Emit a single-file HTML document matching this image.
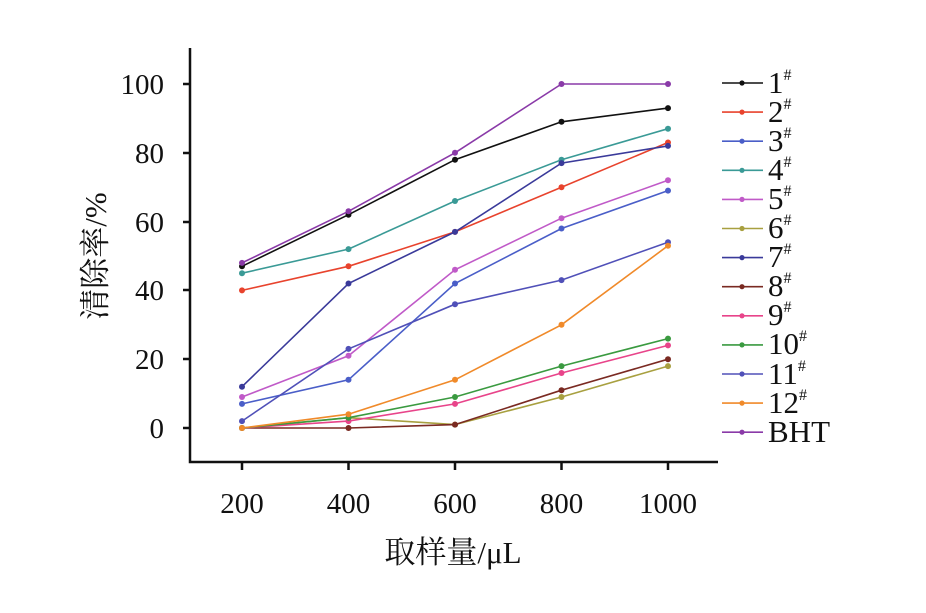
<!DOCTYPE html>
<html><head><meta charset="utf-8"><style>body{margin:0;background:#fff}</style></head><body>
<svg width="926" height="608" xmlns="http://www.w3.org/2000/svg" font-family="Liberation Serif, Noto Serif CJK SC, serif">
<defs>
<marker id="m0" markerWidth="8" markerHeight="8" refX="4" refY="4" markerUnits="userSpaceOnUse"><circle cx="4" cy="4" r="3" fill="#111"/></marker>
<marker id="m1" markerWidth="8" markerHeight="8" refX="4" refY="4" markerUnits="userSpaceOnUse"><circle cx="4" cy="4" r="3" fill="#e8432d"/></marker>
<marker id="m2" markerWidth="8" markerHeight="8" refX="4" refY="4" markerUnits="userSpaceOnUse"><circle cx="4" cy="4" r="3" fill="#4a5ec8"/></marker>
<marker id="m3" markerWidth="8" markerHeight="8" refX="4" refY="4" markerUnits="userSpaceOnUse"><circle cx="4" cy="4" r="3" fill="#3a9a96"/></marker>
<marker id="m4" markerWidth="8" markerHeight="8" refX="4" refY="4" markerUnits="userSpaceOnUse"><circle cx="4" cy="4" r="3" fill="#c05ac8"/></marker>
<marker id="m5" markerWidth="8" markerHeight="8" refX="4" refY="4" markerUnits="userSpaceOnUse"><circle cx="4" cy="4" r="3" fill="#a8a040"/></marker>
<marker id="m6" markerWidth="8" markerHeight="8" refX="4" refY="4" markerUnits="userSpaceOnUse"><circle cx="4" cy="4" r="3" fill="#3a3a9a"/></marker>
<marker id="m7" markerWidth="8" markerHeight="8" refX="4" refY="4" markerUnits="userSpaceOnUse"><circle cx="4" cy="4" r="3" fill="#7a2a22"/></marker>
<marker id="m8" markerWidth="8" markerHeight="8" refX="4" refY="4" markerUnits="userSpaceOnUse"><circle cx="4" cy="4" r="3" fill="#e8448a"/></marker>
<marker id="m9" markerWidth="8" markerHeight="8" refX="4" refY="4" markerUnits="userSpaceOnUse"><circle cx="4" cy="4" r="3" fill="#3a9a40"/></marker>
<marker id="m10" markerWidth="8" markerHeight="8" refX="4" refY="4" markerUnits="userSpaceOnUse"><circle cx="4" cy="4" r="3" fill="#5050b8"/></marker>
<marker id="m11" markerWidth="8" markerHeight="8" refX="4" refY="4" markerUnits="userSpaceOnUse"><circle cx="4" cy="4" r="3" fill="#f08a2a"/></marker>
<marker id="m12" markerWidth="8" markerHeight="8" refX="4" refY="4" markerUnits="userSpaceOnUse"><circle cx="4" cy="4" r="3" fill="#8a3aa8"/></marker>
</defs>
<rect width="926" height="608" fill="#fff"/>
<g stroke="#111" stroke-width="2.5" fill="none">
<path d="M190,48V462H718"/>
<path d="M190,428h-7M190,359h-7M190,290h-7M190,222h-7M190,153h-7M190,84h-7"/>
<path d="M242,462v8M348.5,462v8M455,462v8M561.5,462v8M668,462v8"/>
</g>
<g font-size="29" fill="#111" text-anchor="end">
<text x="164" y="438">0</text><text x="164" y="369">20</text><text x="164" y="300">40</text><text x="164" y="232">60</text><text x="164" y="163">80</text><text x="164" y="94">100</text>
</g>
<g font-size="29" fill="#111" text-anchor="middle">
<text x="242" y="513">200</text><text x="348.5" y="513">400</text><text x="455" y="513">600</text><text x="561.5" y="513">800</text><text x="668" y="513">1000</text>
<text x="453" y="563" font-size="31">取样量/μL</text>
<text transform="translate(106,256) rotate(-90)" font-size="31">清除率/%</text>
</g>
<g fill="none" stroke-width="1.6">
<polyline stroke="#111" marker-start="url(#m0)" marker-mid="url(#m0)" marker-end="url(#m0)" points="242,266.3 348.5,214.7 455,159.7 561.5,121.8 668,108.1"/>
<polyline stroke="#e8432d" marker-start="url(#m1)" marker-mid="url(#m1)" marker-end="url(#m1)" points="242,290.4 348.5,266.3 455,231.9 561.5,187.2 668,142.5"/>
<polyline stroke="#4a5ec8" marker-start="url(#m2)" marker-mid="url(#m2)" marker-end="url(#m2)" points="242,403.9 348.5,379.8 455,283.5 561.5,228.5 668,190.6"/>
<polyline stroke="#3a9a96" marker-start="url(#m3)" marker-mid="url(#m3)" marker-end="url(#m3)" points="242,273.2 348.5,249.1 455,201 561.5,159.7 668,128.7"/>
<polyline stroke="#c05ac8" marker-start="url(#m4)" marker-mid="url(#m4)" marker-end="url(#m4)" points="242,397 348.5,355.8 455,269.8 561.5,218.2 668,180.3"/>
<polyline stroke="#a8a040" marker-start="url(#m5)" marker-mid="url(#m5)" marker-end="url(#m5)" points="242,428 348.5,417.7 455,424.6 561.5,397 668,366.1"/>
<polyline stroke="#3a3a9a" marker-start="url(#m6)" marker-mid="url(#m6)" marker-end="url(#m6)" points="242,386.7 348.5,283.5 455,231.9 561.5,163.1 668,145.9"/>
<polyline stroke="#7a2a22" marker-start="url(#m7)" marker-mid="url(#m7)" marker-end="url(#m7)" points="242,428 348.5,428 455,424.6 561.5,390.2 668,359.2"/>
<polyline stroke="#e8448a" marker-start="url(#m8)" marker-mid="url(#m8)" marker-end="url(#m8)" points="242,428 348.5,421.1 455,403.9 561.5,373 668,345.4"/>
<polyline stroke="#3a9a40" marker-start="url(#m9)" marker-mid="url(#m9)" marker-end="url(#m9)" points="242,428 348.5,417.7 455,397 561.5,366.1 668,338.6"/>
<polyline stroke="#5050b8" marker-start="url(#m10)" marker-mid="url(#m10)" marker-end="url(#m10)" points="242,421.1 348.5,348.9 455,304.2 561.5,280.1 668,242.2"/>
<polyline stroke="#f08a2a" marker-start="url(#m11)" marker-mid="url(#m11)" marker-end="url(#m11)" points="242,428 348.5,414.2 455,379.8 561.5,324.8 668,245.7"/>
<polyline stroke="#8a3aa8" marker-start="url(#m12)" marker-mid="url(#m12)" marker-end="url(#m12)" points="242,262.9 348.5,211.3 455,152.8 561.5,84 668,84"/>
</g>
<g stroke-width="1.6">
<line x1="722" x2="763" y1="83" y2="83" stroke="#111"/><circle cx="742" cy="83" r="2.6" fill="#111"/>
<line x1="722" x2="763" y1="112.1" y2="112.1" stroke="#e8432d"/><circle cx="742" cy="112.1" r="2.6" fill="#e8432d"/>
<line x1="722" x2="763" y1="141.2" y2="141.2" stroke="#4a5ec8"/><circle cx="742" cy="141.2" r="2.6" fill="#4a5ec8"/>
<line x1="722" x2="763" y1="170.3" y2="170.3" stroke="#3a9a96"/><circle cx="742" cy="170.3" r="2.6" fill="#3a9a96"/>
<line x1="722" x2="763" y1="199.4" y2="199.4" stroke="#c05ac8"/><circle cx="742" cy="199.4" r="2.6" fill="#c05ac8"/>
<line x1="722" x2="763" y1="228.5" y2="228.5" stroke="#a8a040"/><circle cx="742" cy="228.5" r="2.6" fill="#a8a040"/>
<line x1="722" x2="763" y1="257.6" y2="257.6" stroke="#3a3a9a"/><circle cx="742" cy="257.6" r="2.6" fill="#3a3a9a"/>
<line x1="722" x2="763" y1="286.7" y2="286.7" stroke="#7a2a22"/><circle cx="742" cy="286.7" r="2.6" fill="#7a2a22"/>
<line x1="722" x2="763" y1="315.8" y2="315.8" stroke="#e8448a"/><circle cx="742" cy="315.8" r="2.6" fill="#e8448a"/>
<line x1="722" x2="763" y1="344.9" y2="344.9" stroke="#3a9a40"/><circle cx="742" cy="344.9" r="2.6" fill="#3a9a40"/>
<line x1="722" x2="763" y1="374" y2="374" stroke="#5050b8"/><circle cx="742" cy="374" r="2.6" fill="#5050b8"/>
<line x1="722" x2="763" y1="403.1" y2="403.1" stroke="#f08a2a"/><circle cx="742" cy="403.1" r="2.6" fill="#f08a2a"/>
<line x1="722" x2="763" y1="432.2" y2="432.2" stroke="#8a3aa8"/><circle cx="742" cy="432.2" r="2.6" fill="#8a3aa8"/>
</g>
<g font-size="31" fill="#111">
<text x="768" y="93">1<tspan font-size="16" dy="-13">#</tspan></text>
<text x="768" y="122">2<tspan font-size="16" dy="-13">#</tspan></text>
<text x="768" y="151">3<tspan font-size="16" dy="-13">#</tspan></text>
<text x="768" y="180">4<tspan font-size="16" dy="-13">#</tspan></text>
<text x="768" y="209">5<tspan font-size="16" dy="-13">#</tspan></text>
<text x="768" y="238">6<tspan font-size="16" dy="-13">#</tspan></text>
<text x="768" y="267">7<tspan font-size="16" dy="-13">#</tspan></text>
<text x="768" y="296">8<tspan font-size="16" dy="-13">#</tspan></text>
<text x="768" y="325">9<tspan font-size="16" dy="-13">#</tspan></text>
<text x="768" y="354">10<tspan font-size="16" dy="-13">#</tspan></text>
<text x="768" y="384">11<tspan font-size="16" dy="-13">#</tspan></text>
<text x="768" y="413">12<tspan font-size="16" dy="-13">#</tspan></text>
<text x="768" y="442">BHT</text>
</g>
</svg>
</body></html>
